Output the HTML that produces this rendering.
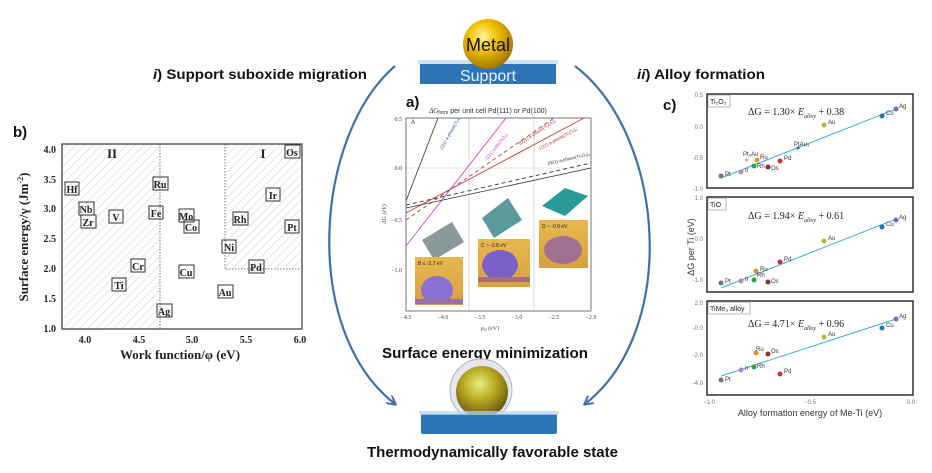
<!DOCTYPE html>
<html><head><meta charset="utf-8"><style>
html,body{margin:0;padding:0;background:#fff;}
svg{display:block;}
</style></head><body>
<svg width="932" height="473" viewBox="0 0 932 473" xmlns="http://www.w3.org/2000/svg" font-family="Liberation Sans, sans-serif">
<defs>
<pattern id="hatch" width="6" height="6" patternUnits="userSpaceOnUse" patternTransform="rotate(45)">
<line x1="0" y1="0" x2="0" y2="6" stroke="#d4d4d4" stroke-width="1.2"/>
</pattern>
<radialGradient id="gold" cx="0.4" cy="0.35" r="0.7">
<stop offset="0" stop-color="#fff3a0"/><stop offset="0.4" stop-color="#f2c200"/><stop offset="1" stop-color="#9a6e00"/>
</radialGradient>
<radialGradient id="gold2" cx="0.45" cy="0.35" r="0.7">
<stop offset="0" stop-color="#e8ee80"/><stop offset="0.45" stop-color="#b8a820"/><stop offset="1" stop-color="#5a4a10"/>
</radialGradient>
<linearGradient id="img" x1="0" y1="0" x2="0" y2="1"><stop offset="0" stop-color="#e8b850"/><stop offset="1" stop-color="#d8a040"/></linearGradient>
<marker id="ar" markerWidth="10" markerHeight="10" refX="8" refY="5" orient="auto" markerUnits="userSpaceOnUse"><path d="M0,0 L9,5 L0,10" fill="none" stroke="#3f6fb0" stroke-width="2"/></marker>
</defs>

<path d="M395,66 C315,135 300,330 395,404" fill="none" stroke="#3f6fb0" stroke-width="2.2" marker-end="url(#ar)"/>
<path d="M575,66 C665,135 680,330 585,404" fill="none" stroke="#3f6fb0" stroke-width="2.2" marker-end="url(#ar)"/>

<rect x="420" y="64" width="136" height="20" fill="#2e75b8"/>
<rect x="418" y="60" width="140" height="4" fill="#b8d4ee" opacity="0.7"/>
<circle cx="488" cy="44" r="25" fill="url(#gold)"/>
<text x="488" y="51" font-size="18" text-anchor="middle" fill="#111">Metal</text>
<text x="488" y="81" font-size="16" text-anchor="middle" fill="#e8f2ff">Support</text>

<text x="153" y="79" font-size="14" font-weight="bold" fill="#111" textLength="214" lengthAdjust="spacingAndGlyphs"><tspan font-style="italic">i</tspan>) Support suboxide migration</text>
<text x="637" y="79" font-size="14" font-weight="bold" fill="#111" textLength="128" lengthAdjust="spacingAndGlyphs"><tspan font-style="italic">ii</tspan>) Alloy formation</text>
<text x="382" y="358" font-size="15" font-weight="bold" fill="#111" textLength="206" lengthAdjust="spacingAndGlyphs">Surface energy minimization</text>
<text x="367" y="457" font-size="15" font-weight="bold" fill="#111" textLength="251" lengthAdjust="spacingAndGlyphs">Thermodynamically favorable state</text>

<circle cx="481" cy="390" r="31" fill="#e4e8ee" stroke="#aab4c0" stroke-width="1"/>
<circle cx="482" cy="392" r="26" fill="url(#gold2)"/>
<rect x="421" y="414" width="136" height="20" rx="2" fill="#2e75b8"/>
<rect x="419" y="411" width="140" height="4" fill="#b8d4ee" opacity="0.7"/>

<text x="13" y="137" font-size="15" font-weight="bold" fill="#111">b)</text>
<rect x="62" y="144" width="98" height="185" fill="url(#hatch)"/>
<rect x="225" y="144" width="75" height="125" fill="url(#hatch)"/>
<line x1="160" y1="144" x2="160" y2="329" stroke="#777" stroke-dasharray="1.5,1.5"/>
<path d="M225,144 V269 H300" fill="none" stroke="#777" stroke-dasharray="1.5,1.5"/>
<rect x="62" y="144" width="240" height="185" fill="none" stroke="#444" stroke-width="1.3"/>
<g font-family="Liberation Serif, serif" font-weight="bold" font-size="10" fill="#222">
<text x="56" y="153" text-anchor="end">4.0</text>
<text x="56" y="183" text-anchor="end">3.5</text>
<text x="56" y="212" text-anchor="end">3.0</text>
<text x="56" y="242" text-anchor="end">2.5</text>
<text x="56" y="272" text-anchor="end">2.0</text>
<text x="56" y="302" text-anchor="end">1.5</text>
<text x="56" y="332" text-anchor="end">1.0</text>
<text x="85" y="343" text-anchor="middle">4.0</text>
<text x="139" y="343" text-anchor="middle">4.5</text>
<text x="192" y="343" text-anchor="middle">5.0</text>
<text x="246" y="343" text-anchor="middle">5.5</text>
<text x="300" y="343" text-anchor="middle">6.0</text>
<text x="180" y="359" text-anchor="middle" font-size="13">Work function/φ (eV)</text>
<text transform="translate(28,237) rotate(-90)" text-anchor="middle" font-size="13">Surface energy/γ (Jm<tspan dy="-5" font-size="8">-2</tspan><tspan dy="5">)</tspan></text>
<text x="112" y="158" font-size="13" text-anchor="middle">II</text>
<text x="263" y="158" font-size="13" text-anchor="middle">I</text>
</g>
<g font-family="Liberation Serif, serif" font-weight="bold" font-size="10" fill="#222" text-anchor="middle">
<g fill="none" stroke="#333" stroke-width="1">
<rect x="65" y="182" width="14" height="13"/><rect x="79" y="202" width="15" height="13"/><rect x="81" y="215" width="15" height="13"/>
<rect x="109" y="210" width="14" height="13"/><rect x="131" y="259" width="14" height="13"/><rect x="112" y="278" width="14" height="13"/>
<rect x="153" y="177" width="15" height="13"/><rect x="149" y="206" width="14" height="13"/><rect x="157" y="304" width="15" height="13"/>
<rect x="179" y="209" width="15" height="13"/><rect x="184" y="220" width="15" height="13"/><rect x="179" y="265" width="15" height="13"/>
<rect x="222" y="240" width="14" height="13"/><rect x="218" y="285" width="15" height="13"/><rect x="233" y="212" width="15" height="13"/>
<rect x="249" y="260" width="15" height="13"/><rect x="266" y="188" width="14" height="13"/><rect x="285" y="220" width="14" height="13"/>
<rect x="285" y="145" width="15" height="13"/>
</g>
<text x="72" y="193">Hf</text><text x="86" y="213">Nb</text><text x="88" y="226">Zr</text>
<text x="116" y="221">V</text><text x="138" y="270">Cr</text><text x="119" y="289">Ti</text>
<text x="160" y="188">Ru</text><text x="156" y="217">Fe</text><text x="164" y="315">Ag</text>
<text x="186" y="220">Mo</text><text x="191" y="231">Co</text><text x="186" y="276">Cu</text>
<text x="229" y="251">Ni</text><text x="225" y="296">Au</text><text x="240" y="223">Rh</text>
<text x="256" y="271">Pd</text><text x="273" y="199">Ir</text><text x="292" y="231">Pt</text>
<text x="292" y="156">Os</text>
</g>

<text x="406" y="107" font-size="15" font-weight="bold" fill="#111">a)</text>
<text x="488" y="113" font-size="7" text-anchor="middle" fill="#333"><tspan font-style="italic" font-family="Liberation Serif, serif">ΔG</tspan><tspan font-size="5" dy="1">form</tspan><tspan dy="-1"> per unit cell Pd(111) or Pd(100)</tspan></text>
<svg x="406" y="118" width="185" height="193" viewBox="406 118 185 193" overflow="hidden">
<line x1="469" y1="118" x2="469" y2="311" stroke="#ccc" stroke-width="0.8"/>
<line x1="534" y1="118" x2="534" y2="311" stroke="#ccc" stroke-width="0.8"/>
<line x1="406" y1="168" x2="591" y2="168" stroke="#ddd" stroke-width="0.8"/>
<line x1="406" y1="201" x2="438" y2="118" stroke="#333" stroke-width="0.8"/>
<line x1="406" y1="246" x2="506" y2="118" stroke="#d050d0" stroke-width="1"/>
<line x1="406" y1="213" x2="584" y2="118" stroke="#c04040" stroke-width="0.9"/>
<line x1="406" y1="220" x2="554" y2="118" stroke="#c04040" stroke-width="0.9" stroke-dasharray="4,3"/>
<line x1="406" y1="205" x2="591" y2="163" stroke="#333" stroke-width="0.9" stroke-dasharray="4,3"/>
<line x1="406" y1="208" x2="591" y2="168" stroke="#333" stroke-width="0.8"/>
<text x="411" y="124" font-size="6" fill="#333">A</text>
<g font-size="4.5">
<text transform="translate(442,150) rotate(-60)" fill="#3050a0">(111) a-phase(Ti₂O₃)₂</text>
<text transform="translate(487,160) rotate(-50)" fill="#c040c0">(111) rutile(TiO₂)</text>
<text transform="translate(520,145) rotate(-33)" fill="#b03030">(001) a-phase(Ti₂O₃)₂</text>
<text transform="translate(540,150) rotate(-28)" fill="#b03030">(111) a-phase(Ti₂O₃)₂</text>
<text transform="translate(548,165) rotate(-13)" fill="#333">(001) a-phase(Ti₂O₃)₂</text>
</g>
<g>
<polygon points="422,240 452,222 464,242 434,260" fill="#8a9a9a"/>
<rect x="415" y="257" width="48" height="48" fill="url(#img)"/>
<ellipse cx="437" cy="290" rx="16" ry="14" fill="#8a70d0"/>
<rect x="415" y="299" width="48" height="5" fill="#9a70a8"/>
<text x="418" y="265" font-size="5" fill="#222">B  ≤ -3.7 eV</text>
<polygon points="482,218 508,198 522,220 494,238" fill="#5a9a9a"/>
<rect x="478" y="239" width="52" height="48" fill="url(#img)"/>
<ellipse cx="500" cy="265" rx="18" ry="15" fill="#7a60c8"/>
<rect x="478" y="277" width="52" height="5" fill="#a07080"/>
<text x="481" y="247" font-size="5" fill="#222">C  ~ -2.8 eV</text>
<polygon points="542,206 565,188 588,196 565,216" fill="#2a9a9a"/>
<rect x="539" y="220" width="49" height="48" fill="url(#img)"/>
<ellipse cx="563" cy="250" rx="19" ry="14" fill="#a07090"/>
<text x="542" y="228" font-size="5" fill="#222">D  ~ -0.9 eV</text>
</g>
</svg>
<rect x="406" y="118" width="185" height="193" fill="none" stroke="#555" stroke-width="0.8"/>
<g font-size="6" fill="#444" font-family="Liberation Serif, serif">
<text x="402" y="121" text-anchor="end">0.5</text>
<text x="402" y="170" text-anchor="end">0.0</text>
<text x="402" y="222" text-anchor="end">−0.5</text>
<text x="402" y="272" text-anchor="end">−1.0</text>
<text x="406" y="319" text-anchor="middle">−4.5</text>
<text x="443" y="319" text-anchor="middle">−4.0</text>
<text x="480" y="319" text-anchor="middle">−3.5</text>
<text x="517" y="319" text-anchor="middle">−3.0</text>
<text x="554" y="319" text-anchor="middle">−2.5</text>
<text x="591" y="319" text-anchor="middle">−2.0</text>
<text x="490" y="330" text-anchor="middle" font-style="italic">μ<tspan font-size="4" dy="1">O</tspan><tspan dy="-1" font-style="normal"> (eV)</tspan></text>
<text transform="translate(386,214) rotate(-90)" text-anchor="middle" font-style="italic">ΔG (eV)</text>
</g>

<text x="663" y="110" font-size="15" font-weight="bold" fill="#111">c)</text>
<g fill="none" stroke="#222" stroke-width="1.4">
<rect x="707" y="94" width="206" height="94"/>
<rect x="707" y="197" width="206" height="95"/>
<rect x="707" y="301" width="206" height="94"/>
</g>
<g font-size="6" fill="#777" text-anchor="end">
<text x="703" y="97">0.5</text><text x="703" y="129">0.0</text><text x="703" y="160">-0.5</text><text x="703" y="191">-1.0</text>
<text x="703" y="200">1.0</text><text x="703" y="241">0.0</text><text x="703" y="282">-1.0</text>
<text x="703" y="305">2.0</text><text x="703" y="330">-0.0</text><text x="703" y="357">-2.0</text><text x="703" y="385">-4.0</text>
</g>
<g font-size="6" fill="#777" text-anchor="middle">
<text x="709" y="404">−1.0</text><text x="810" y="404">−0.5</text><text x="911" y="404">0.0</text>
</g>
<text x="810" y="416" font-size="9" text-anchor="middle" fill="#333">Alloy formation energy of Me-Ti (eV)</text>
<text transform="translate(694,247) rotate(-90)" font-size="9" text-anchor="middle" fill="#333">ΔG per Ti (eV)</text>
<g fill="#fff" stroke="#888" stroke-width="0.6">
<rect x="708" y="95" width="22" height="12"/><rect x="708" y="198" width="18" height="12"/><rect x="708" y="302" width="42" height="12"/>
</g>
<g font-size="7" fill="#222">
<text x="710" y="104">Ti₂O₃</text><text x="710" y="207">TiO</text><text x="710" y="311">TiMe₃ alloy</text>
</g>
<g font-family="Liberation Serif, serif" font-size="10" fill="#222">
<text x="748" y="115">ΔG = 1.30× <tspan font-style="italic">E</tspan><tspan font-size="6" dy="3" font-style="italic">alloy</tspan><tspan dy="-3"> + 0.38</tspan></text>
<text x="748" y="219">ΔG = 1.94× <tspan font-style="italic">E</tspan><tspan font-size="6" dy="3" font-style="italic">alloy</tspan><tspan dy="-3"> + 0.61</tspan></text>
<text x="748" y="327">ΔG = 4.71× <tspan font-style="italic">E</tspan><tspan font-size="6" dy="3" font-style="italic">alloy</tspan><tspan dy="-3"> + 0.96</tspan></text>
</g>
<g stroke="#3ab0c8" stroke-width="1">
<line x1="721" y1="178" x2="896" y2="109"/>
<line x1="721" y1="288" x2="896" y2="219"/>
<line x1="721" y1="376" x2="896" y2="319"/>
</g>
<g>
<circle cx="721" cy="176" r="2.5" fill="#777"/><circle cx="741" cy="172" r="2.5" fill="#c080d0"/><circle cx="754" cy="166" r="2.5" fill="#30a040"/>
<circle cx="757" cy="160" r="2.5" fill="#e09030"/><text x="744" y="162" font-size="6" fill="#e09030">★</text><circle cx="768" cy="167" r="2.5" fill="#8a3030"/>
<circle cx="780" cy="161" r="2.5" fill="#d03030"/><circle cx="798" cy="148" r="1.6" fill="#2a70c0"/><circle cx="824" cy="125" r="2.5" fill="#c0b040"/>
<circle cx="882" cy="116" r="2.5" fill="#1f77b4"/><circle cx="896" cy="109" r="2.5" fill="#8a60c0"/>
<circle cx="721" cy="283" r="2.5" fill="#777"/><circle cx="741" cy="281" r="2.5" fill="#c080d0"/><circle cx="754" cy="280" r="2.5" fill="#30a040"/>
<circle cx="756" cy="271" r="2.5" fill="#e09030"/><circle cx="768" cy="282" r="2.5" fill="#8a3030"/><circle cx="780" cy="262" r="2.5" fill="#d03030"/>
<circle cx="824" cy="241" r="2.5" fill="#c0b040"/><circle cx="882" cy="227" r="2.5" fill="#1f77b4"/><circle cx="896" cy="220" r="2.5" fill="#8a60c0"/>
<circle cx="721" cy="380" r="2.5" fill="#777"/><circle cx="741" cy="370" r="2.5" fill="#c080d0"/><circle cx="754" cy="367" r="2.5" fill="#30a040"/>
<circle cx="756" cy="353" r="2.5" fill="#e09030"/><circle cx="768" cy="354" r="2.5" fill="#8a3030"/><circle cx="780" cy="374" r="2.5" fill="#d03030"/>
<circle cx="824" cy="337" r="2.5" fill="#c0b040"/><circle cx="882" cy="328" r="2.5" fill="#1f77b4"/><circle cx="896" cy="319" r="2.5" fill="#8a60c0"/>
</g>
<g font-size="6" fill="#333">
<text x="725" y="176">Pt</text><text x="745" y="172">Ir</text><text x="757" y="168">Rh</text><text x="743" y="156">Pt₃Au</text><text x="760" y="159">Ru</text>
<text x="771" y="170">Os</text><text x="784" y="160">Pd</text><text x="794" y="146">PtAu₃</text><text x="828" y="124">Au</text><text x="886" y="115">Cu</text><text x="899" y="108">Ag</text>
<text x="725" y="283">Pt</text><text x="745" y="281">Ir</text><text x="757" y="277">Rh</text><text x="760" y="271">Ru</text>
<text x="771" y="283">Os</text><text x="784" y="261">Pd</text><text x="828" y="240">Au</text><text x="886" y="226">Cu</text><text x="899" y="219">Ag</text>
<text x="725" y="381">Pt</text><text x="745" y="370">Ir</text><text x="757" y="368">Rh</text><text x="756" y="351">Ru</text>
<text x="771" y="353">Os</text><text x="784" y="373">Pd</text><text x="828" y="336">Au</text><text x="886" y="327">Cu</text><text x="899" y="318">Ag</text>
</g>
</svg>
</body></html>
